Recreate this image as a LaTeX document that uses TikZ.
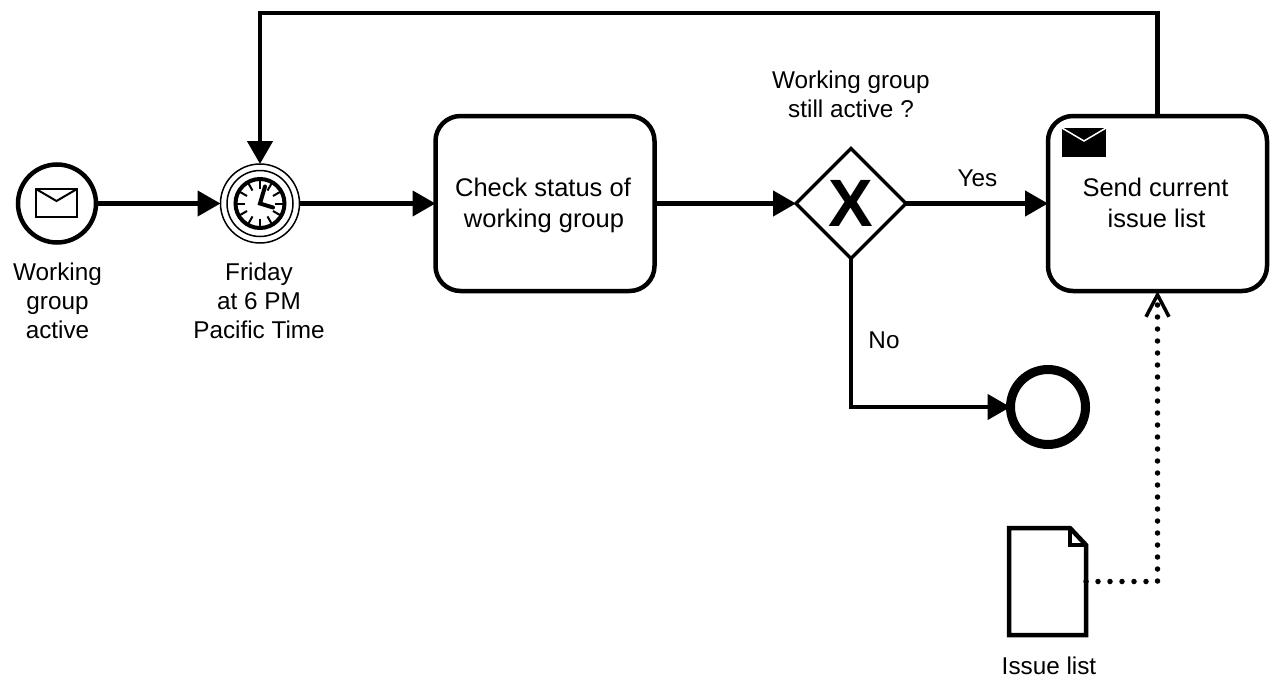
\documentclass[tikz,border=0pt]{standalone}
\usepackage{fontspec}
\setmainfont{Liberation Sans}
\usetikzlibrary{positioning, arrows.meta, shapes.geometric}
\tikzstyle{arrow} = [line width=4.5pt,-{Triangle[length=23pt,width=25pt]}]
\tikzstyle{dotflow} = [line width=5.5pt,line cap=round,dash pattern=on 0pt off 12pt,-{Straight Barb[length=22pt,width=23pt,line width=3.5pt]}]

\begin{document}
\begin{tikzpicture}[x=1pt,y=-1pt]
                    \tikzstyle{every node}=[font=\fontsize{24.3}{29}\selectfont, align=center]
                    \tikzstyle{task} = [rectangle, rounded corners=25pt, draw=black, line width=4.5pt, fill=white, minimum width=219pt, minimum height=175pt, inner sep=0pt, outer sep=0pt, text height=52pt, text depth=5pt, font=\fontsize{25.5}{31}\selectfont]
                    \tikzstyle{event} = [circle, draw=black, fill=white, inner sep=0pt, outer sep=0pt]
                    \tikzstyle{gateway} = [diamond, draw=black, line width=3.5pt, fill=white, minimum width=110pt, minimum height=110pt, inner sep=0pt, outer sep=0pt, font=\fontsize{67}{67}\selectfont\bfseries]
                    \tikzstyle{hidden} = [draw=none, inner sep=0pt, outer sep=0pt]

                    \useasboundingbox (0,0) rectangle (1280,696);

                    \node[event, line width=4.5pt, minimum size=78pt](startev) at (57,203.5) {};
                    \node[event, line width=1.5pt, minimum size=79pt](timer) at (260,203.5) {};
                    \node[task](check) at (545,203.5) {Check status of\hspace*{4pt}\\working group\hspace*{2pt}};
                    \node[gateway](gate) at (851,203.5) {X};
                    \node[task](send) at (1157.5,203.5) {Send current\hspace*{4pt}\\issue list\hspace*{2pt}};
                    \node[event, line width=9pt, minimum size=75pt](stopev) at (1048,407) {};
                    \node[hidden, minimum width=77pt, minimum height=107pt](doc) at (1047.5,581.5) {};

                    \coordinate (toprt) at (1157.5,13);
                    \coordinate (toplf) at (260,13);
                    \coordinate (dotcorner) at (1157.5,581.5);

                    \node(startlb) at (57.5,301) {Working\\group\\active};
                    \node(timerlb) at (259,301) {Friday\\at 6 PM\\Pacific Time};
                    \node(gatelb) at (851,94.5) {Working group\\still active ?};
                    \node(yeslb) at (977.5,178) {Yes};
                    \node(nolb) at (884,340) {No};
                    \node(doclb) at (1049,666) {Issue list};

                    % timer event
                    \draw[line width=1.5pt] (timer.center) circle (33);
                    \draw[line width=4pt] (timer.center) circle (24.5);
                    \foreach \ang in {0,30,...,330}
                        \draw[line width=2pt] ([shift={(\ang:15)}]timer.center) -- ([shift={(\ang:23)}]timer.center);
                    \draw[line width=4pt, line cap=round] ([xshift=5pt,yshift=17pt]timer.center) -- (timer.center) -- ([xshift=13pt,yshift=-4pt]timer.center);

                    % envelopes
                    \draw[line width=2pt, line join=miter] (36,189) rectangle (77,217);
                    \draw[line width=2pt] (36,189) -- (56.5,201) -- (77,189);
                    \fill[black] (1062,128) rectangle (1106,157);
                    \draw[white, line width=1.5pt] (1062,128) -- (1084,141) -- (1106,128);

                    % data object
                    \draw[line width=4.5pt, line join=miter] (doc.north west) -- ++(61,0) -- ([yshift=-17pt]doc.north east) -- (doc.south east) -- (doc.south west) -- cycle;
                    \draw[line width=4pt, line join=miter] ([xshift=-16pt]doc.north east) -- ++(0,17) -- ++(16,0);

                    \draw[arrow] (startev) -- (timer);
                    \draw[arrow] (timer) -- (check);
                    \draw[arrow] (check) -- (gate);
                    \draw[arrow] (gate) -- (send);
                    \draw[arrow] (gate.south) |- (stopev);
                    \draw[arrow] (send.north) -- (toprt) -- (toplf) -- (timer.north);
                    \draw[dotflow] (doc.east) -- (dotcorner) -- (send.south);
\end{tikzpicture}
\end{document}
